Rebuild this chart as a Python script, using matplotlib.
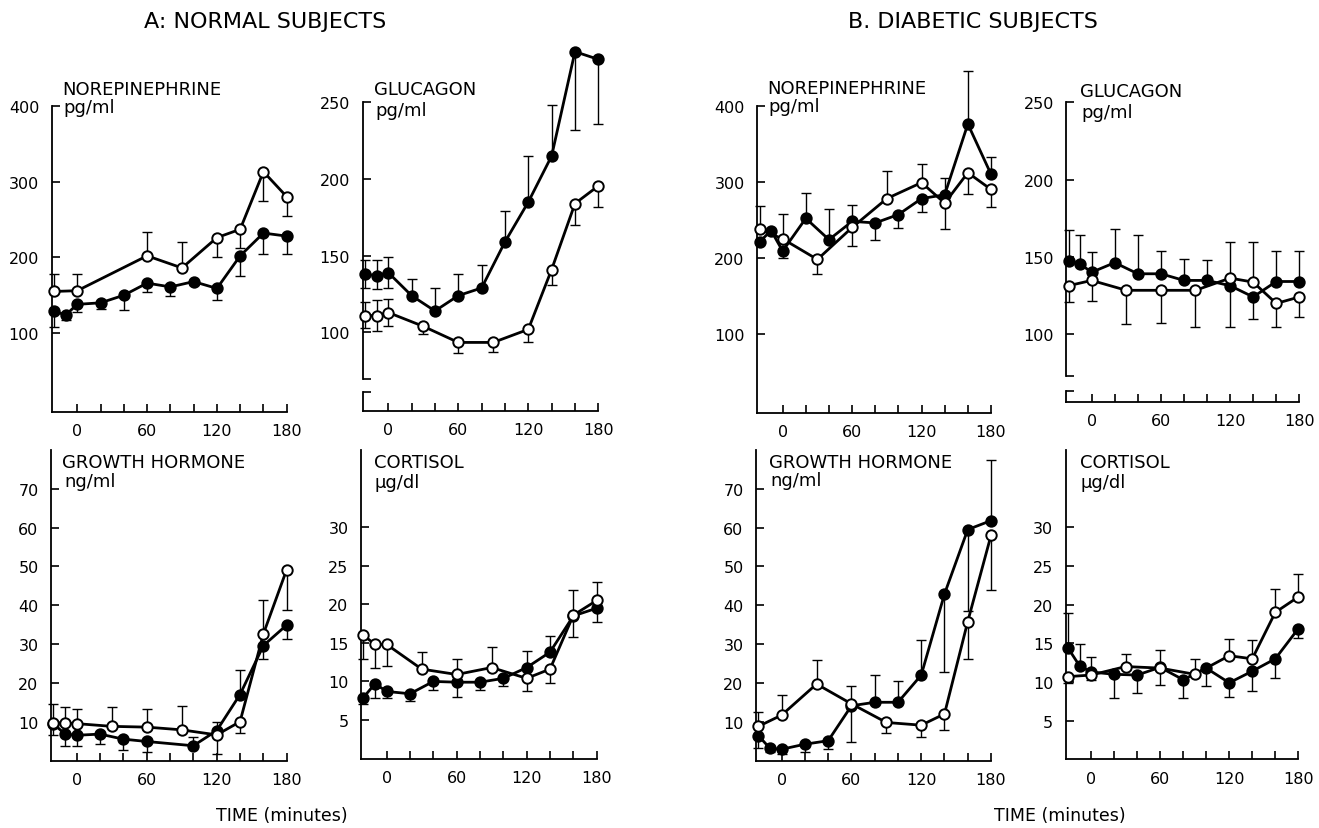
import matplotlib
matplotlib.use("Agg")
import matplotlib.pyplot as plt

W, H = 1319, 829
plt.rcParams['font.family'] = ['DejaVu Sans']

# ---------------- data ----------------
time_ticks = [0, 20, 40, 60, 80, 100, 120, 140, 160, 180]
time_labels = ['0', '', '', '60', '', '', '120', '', '', '180']

# A. Normal subjects -- norepinephrine (pg/ml)
a_ne_t_fill = [-20, -10, 0, 20, 40, 60, 80, 100, 120, 140, 160, 180]
a_ne_fill = [129, 124, 138, 140, 150, 166, 161, 168, 159, 202, 232, 228]
a_ne_fill_lo = [21, 7, 10, 8, 19, 12, 12, 5, 15, 26, 27, 23]
a_ne_fill_hi = [0, 0, 0, 0, 0, 0, 0, 0, 0, 0, 0, 0]
a_ne_t_open = [-20, 0, 60, 90, 120, 140, 160, 180]
a_ne_open = [155, 156, 202, 186, 226, 237, 313, 280]
a_ne_open_lo = [0, 0, 0, 0, 26, 25, 39, 26]
a_ne_open_hi = [23, 22, 31, 34, 0, 0, 0, 0]

# A. Normal subjects -- glucagon (pg/ml)
a_glu_t_fill = [-20, -10, 0, 20, 40, 60, 80, 100, 120, 140, 160, 180]
a_glu_fill = [138, 137, 139, 124, 114, 124, 129, 159, 185, 215, 283, 278]
a_glu_fill_lo = [9, 9, 10, 0, 0, 0, 0, 0, 0, 0, 51, 42]
a_glu_fill_hi = [9, 10, 10, 11, 15, 14, 15, 20, 30, 33, 0, 0]
a_glu_t_open = [-20, -10, 0, 30, 60, 90, 120, 140, 160, 180]
a_glu_open = [111, 111, 113, 104, 93.5, 93.5, 102, 141, 184, 195.5]
a_glu_open_lo = [8, 10, 9, 5, 7, 6, 8, 10, 14, 14]
a_glu_open_hi = [9, 10, 9, 0, 0, 0, 0, 0, 0, 0]

# A. Normal subjects -- growth hormone (ng/ml)
a_gh_t_fill = [-20, -10, 0, 20, 40, 60, 100, 120, 140, 160, 180]
a_gh_fill = [9.5, 6.8, 6.5, 6.8, 5.5, 4.9, 3.8, 7.7, 17, 29.6, 34.9]
a_gh_fill_lo = [3, 3, 2.7, 2.5, 2.8, 2.8, 0, 0, 0, 3.4, 3.6]
a_gh_fill_hi = [0, 0, 0, 0, 0, 0, 2.2, 2.3, 6.4, 0, 0]
a_gh_t_open = [-20, -10, 0, 30, 60, 90, 120, 140, 160, 180]
a_gh_open = [9.7, 9.7, 9.5, 8.8, 8.6, 7.9, 6.6, 10, 32.6, 49.2]
a_gh_open_lo = [0, 0, 0, 0, 0, 0, 4.8, 2.9, 0, 10.3]
a_gh_open_hi = [4.8, 4.2, 3.8, 4.9, 4.7, 6.2, 0, 0, 8.8, 0]

# A. Normal subjects -- cortisol (ug/dl)
a_cor_t_fill = [-20, -10, 0, 20, 40, 60, 80, 100, 120, 140, 160, 180]
a_cor_fill = [7.9, 9.7, 8.7, 8.4, 10, 9.9, 9.9, 10.4, 11.8, 13.8, 18.5, 19.5]
a_cor_fill_lo = [0.8, 1.8, 0.9, 1, 1.1, 1.9, 1, 1, 0, 0, 2.7, 1.8]
a_cor_fill_hi = [0, 0, 0, 0, 0, 0, 0, 0, 2.2, 2.1, 0, 0]
a_cor_t_open = [-20, -10, 0, 30, 60, 90, 120, 140, 160, 180]
a_cor_open = [16, 14.8, 14.8, 11.6, 10.9, 11.8, 10.4, 11.6, 18.6, 20.5]
a_cor_open_lo = [3.1, 3.1, 2.8, 0, 0, 0, 1.6, 1.8, 0, 0]
a_cor_open_hi = [0, 0, 0, 2.2, 2, 2.7, 0, 0, 3.3, 2.4]

# B. Diabetic subjects -- norepinephrine (pg/ml)
b_ne_t_fill = [-20, -10, 0, 20, 40, 60, 80, 100, 120, 140, 160, 180]
b_ne_fill = [221, 236, 209, 252, 224, 248, 246, 257, 278, 283, 376, 310]
b_ne_fill_lo = [0, 0, 9, 0, 0, 0, 22, 18, 18, 0, 0, 0]
b_ne_fill_hi = [0, 0, 0, 33, 40, 21, 0, 0, 0, 22, 70, 23]
b_ne_t_open = [-20, 0, 30, 60, 90, 120, 140, 160, 180]
b_ne_open = [238, 225, 198, 240, 278, 299, 272, 312, 290]
b_ne_open_lo = [0, 0, 19, 24, 0, 0, 34, 28, 23]
b_ne_open_hi = [30, 33, 0, 0, 36, 25, 0, 0, 0]

# B. Diabetic subjects -- glucagon (pg/ml)
b_glu_t_fill = [-20, -10, 0, 20, 40, 60, 80, 100, 120, 140, 160, 180]
b_glu_fill = [147.4, 145.3, 140, 146.2, 139, 139, 134.7, 134.7, 131.3, 124, 134, 134]
b_glu_fill_lo = [0, 0, 0, 0, 0, 0, 0, 0, 27, 14, 0, 0]
b_glu_fill_hi = [20, 19, 13, 22, 25, 15, 14, 13, 0, 0, 20, 20]
b_glu_t_open = [-20, 0, 30, 60, 90, 120, 140, 160, 180]
b_glu_open = [131.3, 134.7, 128.3, 128.3, 128.3, 136.2, 133.6, 119.8, 124]
b_glu_open_lo = [10.4, 13, 22, 21, 23.6, 0, 0, 15.5, 13]
b_glu_open_hi = [0, 0, 0, 0, 0, 23.4, 26, 0, 0]

# B. Diabetic subjects -- growth hormone (ng/ml)
b_gh_t_fill = [-20, -10, 0, 20, 40, 60, 80, 100, 120, 140, 160, 180]
b_gh_fill = [6.4, 3.1, 2.9, 4.2, 5.1, 14.1, 15, 15, 22, 42.9, 59.5, 61.8]
b_gh_fill_lo = [3.3, 1, 1.2, 2.1, 2.1, 9.4, 0, 0, 0, 20, 21, 0]
b_gh_fill_hi = [0, 0, 0, 0, 0, 0, 7, 5.5, 9, 0, 0, 15.5]
b_gh_t_open = [-20, 0, 30, 60, 90, 120, 140, 160, 180]
b_gh_open = [8.8, 11.7, 19.7, 14.6, 9.8, 9.1, 12, 35.8, 58]
b_gh_open_lo = [0, 0, 0, 0, 2.8, 3, 4.1, 9.6, 14]
b_gh_open_hi = [3.8, 5.2, 6.3, 4.5, 0, 0, 0, 0, 0]

# B. Diabetic subjects -- cortisol (ug/dl)
b_cor_t_fill = [-20, -10, 0, 20, 40, 60, 80, 100, 120, 140, 160, 180]
b_cor_fill = [14.4, 12.1, 11.3, 11, 10.9, 11.9, 10.3, 11.8, 9.9, 11.4, 13, 16.9]
b_cor_fill_lo = [0, 0, 0, 3.1, 2.3, 2.3, 2.4, 2.3, 1.8, 2.5, 2.5, 1.2]
b_cor_fill_hi = [4.5, 2.8, 1.9, 0, 0, 0, 0, 0, 0, 0, 0, 0]
b_cor_t_open = [-20, 0, 30, 60, 90, 120, 140, 160, 180]
b_cor_open = [10.7, 10.9, 12, 11.8, 11, 13.4, 13, 19, 21]
b_cor_open_lo = [0.8, 0.7, 0, 0, 0, 0, 0, 0, 0]
b_cor_open_hi = [0, 0, 1.6, 2.4, 2, 2.2, 2.4, 3, 3]

ne_ticks = [100, 200, 300, 400]
glu_ticks = [100, 150, 200, 250]
gh_ticks = [10, 20, 30, 40, 50, 60, 70]
cor_ticks = [5, 10, 15, 20, 25, 30]

# ---------------- drawing ----------------
fig = plt.figure(figsize=(W / 100, H / 100), dpi=100)


def rect(l, r, t, b):
    return [l / W, 1 - b / H, (r - l) / W, (b - t) / H]


def ftext(x, y, s, **kw):
    fig.text(x / W, 1 - y / H, s, **kw)


def draw_series(ax, t, y, lo, hi, filled):
    eb = ax.errorbar(t, y, yerr=[lo, hi], fmt='none', ecolor='black',
                     elinewidth=1.0, capsize=3.5, capthick=1.0, zorder=2)
    for art in eb.get_children():
        art.set_clip_on(False)
    ax.plot(t, y, '-', color='black', lw=2.0, zorder=3, clip_on=False)
    ax.plot(t, y, 'o', ms=7.5, mfc='black' if filled else 'white',
            mec='black', mew=1.4, zorder=4, clip_on=False)


def make_panel(r, ylim, yticks, title, unit, tpos, upos, fill, opn,
               brk=None):
    ax = fig.add_axes(rect(*r))
    ax.set_xlim(-22, 180)
    ax.set_ylim(*ylim)
    for s in ('top', 'right'):
        ax.spines[s].set_visible(False)
    for s in ('left', 'bottom'):
        ax.spines[s].set_linewidth(1.3)
    ax.set_xticks(time_ticks)
    ax.set_xticklabels(time_labels)
    ax.set_yticks(yticks)
    ax.set_yticklabels([str(v) for v in yticks])
    ax.tick_params(direction='in', length=6, width=1.2, labelsize=11.5,
                   pad=9)
    ax.tick_params(axis='x', pad=8)
    ax.patch.set_alpha(0)
    if brk is not None:
        ax.spines['left'].set_bounds(brk[1], ylim[1])
        ax.plot([0, 0], [ylim[0], brk[0]], color='black', lw=1.3,
                transform=ax.get_yaxis_transform(), clip_on=False)
        ax.set_yticks(list(brk), minor=True)
        ax.tick_params(axis='y', which='minor', direction='in', length=6,
                       width=1.2)
    draw_series(ax, *fill, True)
    draw_series(ax, *opn, False)
    ftext(tpos[0], tpos[1], title, fontsize=13, ha='left', va='center')
    ftext(upos[0], upos[1], unit, fontsize=13, ha='left', va='center')
    return ax


# A panels
make_panel((51.7, 286.7, 106.7, 413), (-4, 400), ne_ticks,
           'NOREPINEPHRINE', 'pg/ml', (62, 90), (63, 108),
           (a_ne_t_fill, a_ne_fill, a_ne_fill_lo, a_ne_fill_hi),
           (a_ne_t_open, a_ne_open, a_ne_open_lo, a_ne_open_hi))
make_panel((362.6, 598.3, 103.3, 411.7), (49, 250), glu_ticks,
           'GLUCAGON', 'pg/ml', (374, 90), (375, 111),
           (a_glu_t_fill, a_glu_fill, a_glu_fill_lo, a_glu_fill_hi),
           (a_glu_t_open, a_glu_open, a_glu_open_lo, a_glu_open_hi),
           brk=(61, 69.5))
make_panel((51, 286.7, 451, 761.5), (0, 80), gh_ticks,
           'GROWTH HORMONE', 'ng/ml', (62, 463), (64, 482),
           (a_gh_t_fill, a_gh_fill, a_gh_fill_lo, a_gh_fill_hi),
           (a_gh_t_open, a_gh_open, a_gh_open_lo, a_gh_open_hi))
make_panel((361, 596.7, 451.2, 759.5), (0, 40), cor_ticks,
           'CORTISOL', '\u03bcg/dl', (374, 463), (374, 483),
           (a_cor_t_fill, a_cor_fill, a_cor_fill_lo, a_cor_fill_hi),
           (a_cor_t_open, a_cor_open, a_cor_open_lo, a_cor_open_hi))

# B panels
make_panel((757.2, 991, 106.7, 414.2), (-4, 400), ne_ticks,
           'NOREPINEPHRINE', 'pg/ml', (767, 89), (768, 107),
           (b_ne_t_fill, b_ne_fill, b_ne_fill_lo, b_ne_fill_hi),
           (b_ne_t_open, b_ne_open, b_ne_open_lo, b_ne_open_hi))
make_panel((1066.3, 1299.3, 103.3, 403), (56, 250), glu_ticks,
           'GLUCAGON', 'pg/ml', (1080, 92), (1081, 113),
           (b_glu_t_fill, b_glu_fill, b_glu_fill_lo, b_glu_fill_hi),
           (b_glu_t_open, b_glu_open, b_glu_open_lo, b_glu_open_hi),
           brk=(63.3, 73))
make_panel((756.1, 991, 451, 761.5), (0, 80), gh_ticks,
           'GROWTH HORMONE', 'ng/ml', (769, 463), (770, 481),
           (b_gh_t_fill, b_gh_fill, b_gh_fill_lo, b_gh_fill_hi),
           (b_gh_t_open, b_gh_open, b_gh_open_lo, b_gh_open_hi))
make_panel((1065.7, 1298.3, 450.9, 760.4), (0, 40), cor_ticks,
           'CORTISOL', '\u03bcg/dl', (1080, 463), (1080, 483),
           (b_cor_t_fill, b_cor_fill, b_cor_fill_lo, b_cor_fill_hi),
           (b_cor_t_open, b_cor_open, b_cor_open_lo, b_cor_open_hi))

# headings
ftext(265, 22, 'A: NORMAL SUBJECTS', fontsize=16, ha='center', va='center')
ftext(973, 22, 'B. DIABETIC SUBJECTS', fontsize=16, ha='center', va='center')
ftext(282, 816, 'TIME (minutes)', fontsize=12.5, ha='center', va='center')
ftext(1060, 816, 'TIME (minutes)', fontsize=12.5, ha='center', va='center')

fig.savefig('out.png', dpi=100, facecolor='white')
